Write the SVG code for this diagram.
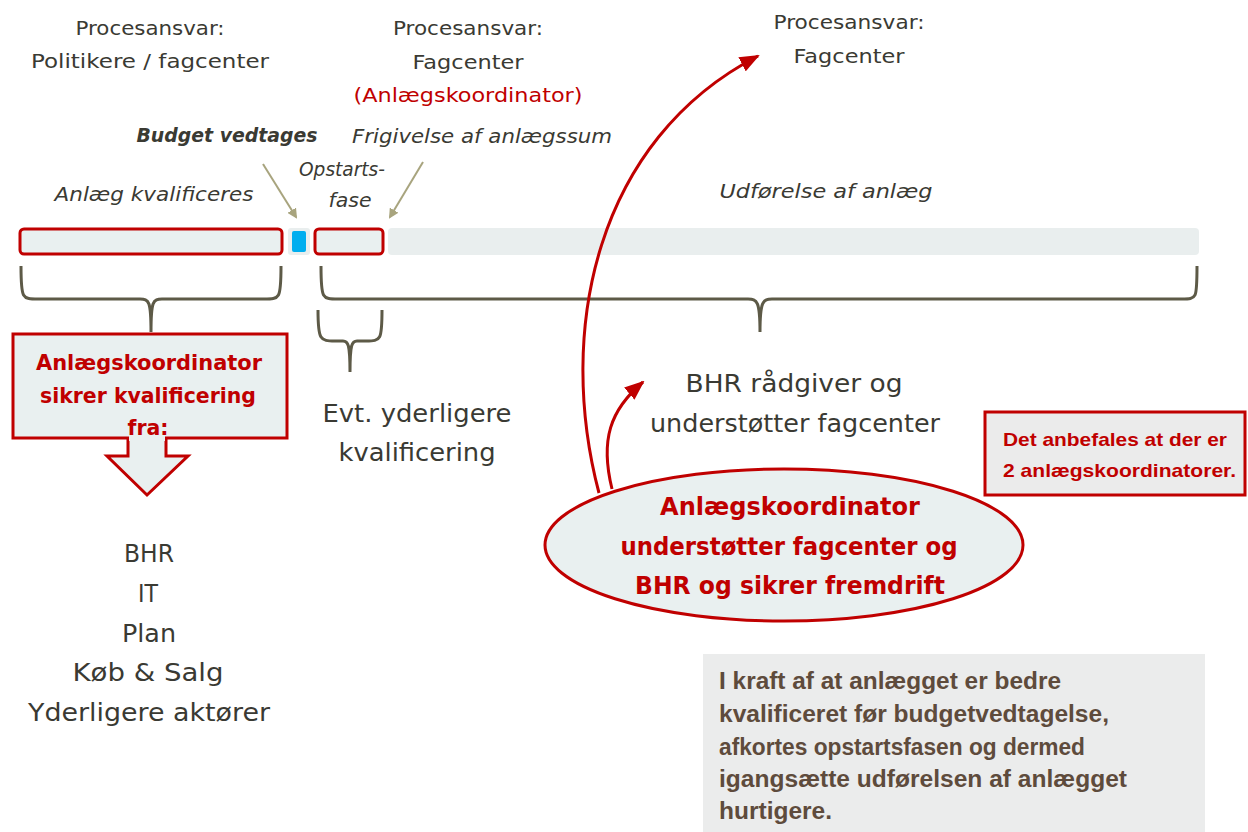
<svg xmlns="http://www.w3.org/2000/svg" width="1248" height="832" viewBox="0 0 1248 832">
<style>
.t{font-family:"DejaVu Sans","Noto Sans",sans-serif;fill:#3a3a33;text-anchor:middle}
.it{font-style:italic}
.red{fill:#C00000}
.rb{font-family:"DejaVu Sans","Noto Sans",sans-serif;font-weight:bold;fill:#C00000;text-anchor:middle}
.bar{fill:#E9F0F0;stroke:#C00000;stroke-width:3}
.brace{fill:none;stroke:#5D5A47;stroke-width:3}
.olive{stroke:#A8A47E;stroke-width:2;fill:none}
.rc{fill:none;stroke:#C00000;stroke-width:3}
.ar{font-family:"Liberation Sans",Arial,sans-serif;font-weight:bold}
</style>
<defs>
<marker id="oa" markerWidth="10" markerHeight="10" refX="8" refY="5" orient="auto" markerUnits="userSpaceOnUse" viewBox="0 0 10 10"><path d="M0,0 L10,5 L0,10 z" fill="#A8A47E"/></marker>
<marker id="ra" markerWidth="20" markerHeight="16" refX="18" refY="8" orient="auto" markerUnits="userSpaceOnUse" viewBox="0 0 20 16"><path d="M0,0 L20,8 L0,16 z" fill="#C00000"/></marker>
</defs>
<rect width="1248" height="832" fill="#fff"/>

<g id="top-labels" lengthAdjust="spacingAndGlyphs">
<text class="t" x="150" y="35" font-size="20" textLength="149" lengthAdjust="spacingAndGlyphs">Procesansvar:</text>
<text class="t" x="150" y="68" font-size="20" textLength="238" lengthAdjust="spacingAndGlyphs">Politikere / fagcenter</text>
<text class="t" x="468" y="35" font-size="20" textLength="150" lengthAdjust="spacingAndGlyphs">Procesansvar:</text>
<text class="t" x="468" y="69" font-size="20" textLength="111" lengthAdjust="spacingAndGlyphs">Fagcenter</text>
<text class="t red" x="468" y="102" font-size="20" textLength="229" lengthAdjust="spacingAndGlyphs">(Anlægskoordinator)</text>
<text class="t" x="849" y="29" font-size="20" textLength="151" lengthAdjust="spacingAndGlyphs">Procesansvar:</text>
<text class="t" x="849" y="63" font-size="20" textLength="111" lengthAdjust="spacingAndGlyphs">Fagcenter</text>
</g>

<g id="phase-labels">
<text class="t it" x="227" y="142" font-size="19" font-weight="bold" textLength="181" lengthAdjust="spacingAndGlyphs">Budget vedtages</text>
<text class="t it" x="482" y="143" font-size="19" textLength="260" lengthAdjust="spacingAndGlyphs">Frigivelse af anlægssum</text>
<text class="t it" x="154" y="201" font-size="19" textLength="199" lengthAdjust="spacingAndGlyphs">Anlæg kvalificeres</text>
<text class="t it" x="342" y="176" font-size="19" textLength="86" lengthAdjust="spacingAndGlyphs">Opstarts-</text>
<text class="t it" x="350" y="207" font-size="19" textLength="43" lengthAdjust="spacingAndGlyphs">fase</text>
<text class="t it" x="826" y="198" font-size="19" textLength="213" lengthAdjust="spacingAndGlyphs">Udførelse af anlæg</text>
</g>

<g id="timeline">
<rect class="bar" x="20" y="229" width="262" height="25" rx="4"/>
<rect x="288" y="228" width="22" height="27" rx="3" fill="#E9EEEE"/>
<rect x="292" y="231" width="14" height="21" rx="2" fill="#00AEEF"/>
<rect class="bar" x="315" y="229" width="68" height="25" rx="4"/>
<rect x="388" y="228" width="811" height="27" rx="4" fill="#E9EEEE"/>
</g>

<g id="connectors">
<line class="olive" x1="263" y1="164" x2="296" y2="217" marker-end="url(#oa)"/>
<line class="olive" x1="423" y1="162" x2="390" y2="217" marker-end="url(#oa)"/>
<path class="brace" d="M21,266 C21,300 22,299 40,299 L140,299 C149,299 151,301 151,332 C151,301 153,299 162,299 L262,299 C280,299 281,300 281,266"/>
<path class="brace" d="M321,266 C321,300 322,299 340,299 L748,299 C757,299 760,301 760,332 C760,301 763,299 772,299 L1180,299 C1197,299 1197,300 1197,266"/>
<path class="brace" d="M318,310 C318,340 320,341 335,341 L343,341 C348,341 350,344 350,372 C350,344 352,341 357,341 L366,341 C381,341 382,340 382,310"/>
<path class="rc" d="M599,493 C556,330 596,140 758,56" marker-end="url(#ra)"/>
<path class="rc" d="M612,489 C600,440 610,410 643,382" marker-end="url(#ra)"/>
</g>

<g id="qualify-box">
<rect x="13" y="334" width="274" height="104" fill="#E9F0F0" stroke="#C00000" stroke-width="3"/>
<path d="M128,438 L128,456 L107,456 L147,495 L188,456 L166,456 L166,438" fill="#E9F0F0" stroke="#C00000" stroke-width="3"/>
<rect x="129" y="433" width="36" height="8" fill="#E9F0F0"/>
<text class="rb" x="149" y="370" font-size="21" textLength="226" lengthAdjust="spacingAndGlyphs">Anlægskoordinator</text>
<text class="rb" x="148" y="403" font-size="21" textLength="216" lengthAdjust="spacingAndGlyphs">sikrer kvalificering</text>
<text class="rb" x="148" y="435" font-size="21" textLength="41" lengthAdjust="spacingAndGlyphs">fra:</text>
</g>

<g id="actors">
<text class="t" x="149" y="562" font-size="24" textLength="50" lengthAdjust="spacingAndGlyphs">BHR</text>
<text class="t" x="148" y="602" font-size="24" textLength="20" lengthAdjust="spacingAndGlyphs">IT</text>
<text class="t" x="149" y="642" font-size="24" textLength="54" lengthAdjust="spacingAndGlyphs">Plan</text>
<text class="t" x="148" y="681" font-size="24" textLength="151" lengthAdjust="spacingAndGlyphs">Køb &amp; Salg</text>
<text class="t" x="149" y="721" font-size="24" textLength="242" lengthAdjust="spacingAndGlyphs">Yderligere aktører</text>
</g>

<g id="further">
<text class="t" x="417" y="422" font-size="24" textLength="189" lengthAdjust="spacingAndGlyphs">Evt. yderligere</text>
<text class="t" x="417" y="461" font-size="24" textLength="157" lengthAdjust="spacingAndGlyphs">kvalificering</text>
</g>

<g id="bhr">
<text class="t" x="794" y="392" font-size="24" textLength="217" lengthAdjust="spacingAndGlyphs">BHR rådgiver og</text>
<text class="t" x="795" y="432" font-size="24" textLength="290" lengthAdjust="spacingAndGlyphs">understøtter fagcenter</text>
</g>

<g id="note">
<rect x="985" y="412" width="260" height="83" fill="#EBEBEB" stroke="#C00000" stroke-width="3"/>
<text class="ar" x="1003" y="446" font-size="19" fill="#C00000" textLength="224" lengthAdjust="spacingAndGlyphs">Det anbefales at der er</text>
<text class="ar" x="1003" y="477" font-size="19" fill="#C00000" textLength="233" lengthAdjust="spacingAndGlyphs">2 anlægskoordinatorer.</text>
</g>

<g id="ellipse-node">
<ellipse cx="784" cy="545" rx="239" ry="76" fill="#E9F0F0" stroke="#C00000" stroke-width="3"/>
<text class="rb" x="790" y="515" font-size="24" textLength="260" lengthAdjust="spacingAndGlyphs">Anlægskoordinator</text>
<text class="rb" x="789" y="555" font-size="24" textLength="337" lengthAdjust="spacingAndGlyphs">understøtter fagcenter og</text>
<text class="rb" x="790" y="594" font-size="24" textLength="310" lengthAdjust="spacingAndGlyphs">BHR og sikrer fremdrift</text>
</g>

<g id="summary">
<rect x="703" y="654" width="502" height="178" fill="#EBECEC"/>
<g class="ar" font-size="23" fill="#5E4B3C">
<text x="719" y="689" textLength="342" lengthAdjust="spacingAndGlyphs">I kraft af at anlægget er bedre</text>
<text x="719" y="722" textLength="390" lengthAdjust="spacingAndGlyphs">kvalificeret før budgetvedtagelse,</text>
<text x="719" y="755" textLength="366" lengthAdjust="spacingAndGlyphs">afkortes opstartsfasen og dermed</text>
<text x="719" y="787" textLength="408" lengthAdjust="spacingAndGlyphs">igangsætte udførelsen af anlægget</text>
<text x="719" y="819" textLength="113" lengthAdjust="spacingAndGlyphs">hurtigere.</text>
</g>
</g>
</svg>
